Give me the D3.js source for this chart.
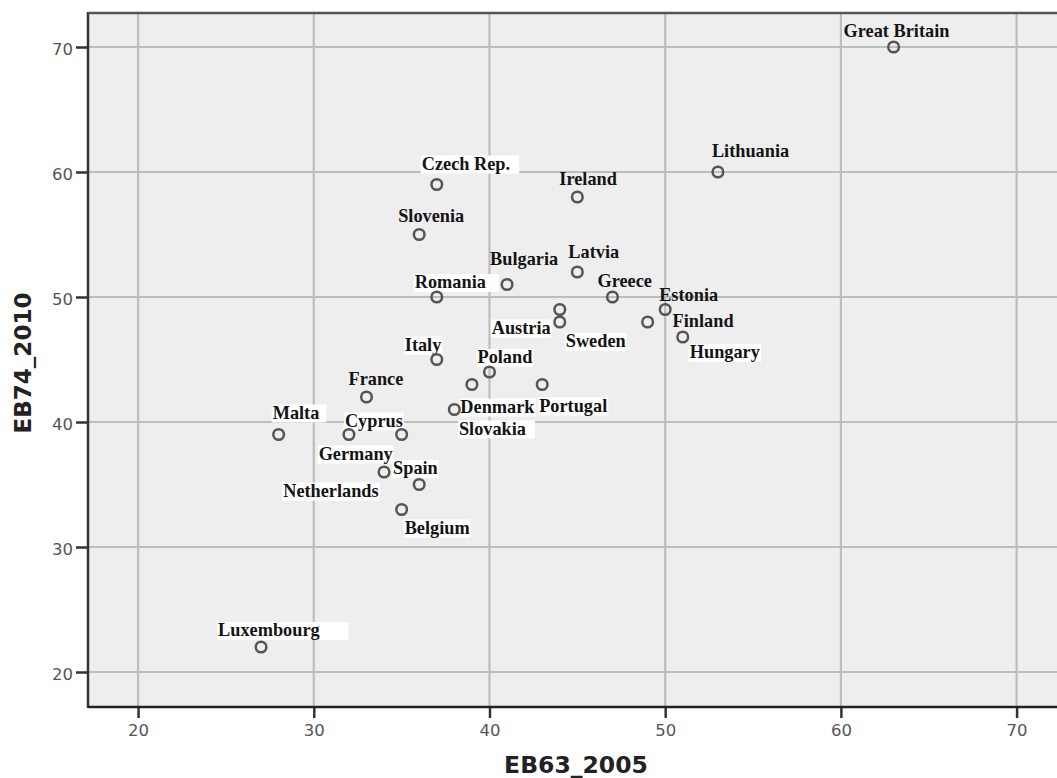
<!DOCTYPE html>
<html>
<head>
<meta charset="utf-8">
<script src="https://cdn.jsdelivr.net/npm/d3@7"></script>
<style>
  html, body { margin: 0; padding: 0; background: #ffffff; }
  svg { display: block; }
</style>
</head>
<body>
<svg id="chart" width="1057" height="778"></svg>
<script>
// Country scores in the two Eurobarometer waves
const countries = ["Great Britain", "Lithuania", "Czech Rep.", "Ireland", "Slovenia", "Bulgaria", "Latvia",
  "Romania", "Greece", "Estonia", "Austria", "Sweden", "Finland", "Hungary", "Italy", "Poland",
  "Slovakia", "Denmark", "Portugal", "France", "Malta", "Cyprus", "Germany", "Spain",
  "Netherlands", "Belgium", "Luxembourg"];
const eb63_2005 = [63, 53, 37, 45, 36, 41, 45, 37, 47, 50, 44, 44, 49, 51, 37, 40,
  39, 38, 43, 33, 28, 32, 35, 34, 36, 35, 27];
const eb74_2010 = [70, 60, 59, 58, 55, 51, 52, 50, 50, 49, 49, 48, 48, 46.8, 45, 44,
  43, 41, 43, 42, 39, 39, 39, 36, 35, 33, 22];

// Axis ticks
const xTicks = [20, 30, 40, 50, 60, 70];
const yTicks = [20, 30, 40, 50, 60, 70];
const xTitle = "EB63_2005";
const yTitle = "EB74_2010";

// Label placement relative to each marker (pixels, text start / baseline)
const labelDx = [-50, -6, -15, -18, -21, -17, -9, -22, -15, -6, -68, 6, 25, 7, -32, -12,
  -13, 6, -3, -18, -6, -4, -83, 9, -136, 3, -43];
const labelDy = [-10, -15, -15, -12, -13, -20, -14, -9, -10, -9, 24, 25, 5, 21, -9, -9,
  50, 3, 27, -12, -16, -8, 25, 2, 12, 24, -11];
// White backing behind some labels: -1 = none, otherwise extra width on the right
const labelBox = [-1, -1, 8, -1, -1, -1, -1, 12, -1, -1, 0, 0, -1, 0, 0, 0,
  8, 0, 0, -1, 6, 0, 0, 0, 0, 0, 28];

const svg = d3.select("#chart");
const plotLeft = 88, plotTop = 13, plotBottom = 707, plotRight = 1057;

const x = d3.scaleLinear().domain([17.15, 72.3]).range([plotLeft, plotRight]);
const y = d3.scaleLinear().domain([17.2, 72.8]).range([plotBottom, plotTop - 1]);

// Plot background
svg.append("rect")
  .attr("x", plotLeft).attr("y", plotTop)
  .attr("width", plotRight - plotLeft).attr("height", plotBottom - plotTop)
  .attr("fill", "#eeeeee");

// Grid lines
const grid = svg.append("g").attr("stroke", "#bdbdbd").attr("stroke-width", 2.2);
grid.selectAll("line.gx").data(xTicks).join("line")
  .attr("class", "gx")
  .attr("x1", d => x(d)).attr("x2", d => x(d))
  .attr("y1", plotTop).attr("y2", plotBottom);
grid.selectAll("line.gy").data(yTicks).join("line")
  .attr("class", "gy")
  .attr("x1", plotLeft).attr("x2", plotRight)
  .attr("y1", d => y(d)).attr("y2", d => y(d));

// Axes
const xAxis = d3.axisBottom(x).tickValues(xTicks).tickSize(11).tickPadding(6).tickSizeOuter(0);
const yAxis = d3.axisLeft(y).tickValues(yTicks).tickSize(12).tickPadding(3).tickSizeOuter(0);

const gx = svg.append("g").attr("transform", `translate(0,${plotBottom})`).call(xAxis);
const gy = svg.append("g").attr("transform", `translate(${plotLeft},0)`).call(yAxis);

[gx, gy].forEach(g => {
  g.select(".domain").remove();
  g.selectAll(".tick line").attr("stroke", "#333").attr("stroke-width", 2.5);
  g.selectAll(".tick text")
    .attr("fill", "#555")
    .attr("font-family", "'DejaVu Sans', sans-serif")
    .attr("font-size", 16.5);
});
gy.selectAll(".tick text").attr("dy", "0.45em");

// Frame lines: left and bottom axis, top border
svg.append("line").attr("x1", plotLeft).attr("x2", plotLeft).attr("y1", plotTop - 1).attr("y2", plotBottom + 1)
  .attr("stroke", "#333").attr("stroke-width", 2.5);
svg.append("line").attr("x1", plotLeft).attr("x2", plotRight).attr("y1", plotBottom).attr("y2", plotBottom)
  .attr("stroke", "#222").attr("stroke-width", 2.5);
svg.append("line").attr("x1", plotLeft).attr("x2", plotRight).attr("y1", plotTop).attr("y2", plotTop)
  .attr("stroke", "#555").attr("stroke-width", 2.5);

// Axis titles
svg.append("text")
  .attr("x", 576).attr("y", 773)
  .attr("text-anchor", "middle")
  .attr("font-family", "'DejaVu Sans', sans-serif")
  .attr("font-weight", "bold")
  .attr("font-size", 23.5)
  .attr("fill", "#222")
  .text(xTitle);
svg.append("text")
  .attr("transform", "translate(31,363) rotate(-90)")
  .attr("text-anchor", "middle")
  .attr("font-family", "'DejaVu Sans', sans-serif")
  .attr("font-weight", "bold")
  .attr("font-size", 23)
  .attr("fill", "#222")
  .text(yTitle);

// Data rows
const rows = countries.map((c, i) => ({
  name: c, a: eb63_2005[i], b: eb74_2010[i],
  dx: labelDx[i], dy: labelDy[i], box: labelBox[i]
}));

// Labels with optional white backing
const labels = svg.append("g");
rows.forEach(r => {
  const g = labels.append("g");
  const t = g.append("text")
    .attr("x", x(r.a) + r.dx)
    .attr("y", y(r.b) + r.dy)
    .attr("font-family", "'Liberation Serif', 'Times New Roman', serif")
    .attr("font-weight", "bold")
    .attr("font-size", 18.3)
    .attr("fill", "#141414")
    .text(r.name);
  if (r.box >= 0) {
    const bb = t.node().getBBox();
    g.insert("rect", "text")
      .attr("x", bb.x - 1).attr("y", bb.y + 2)
      .attr("width", bb.width + 2 + r.box).attr("height", bb.height - 2)
      .attr("fill", "#ffffff");
  }
});

// Markers
svg.append("g").selectAll("circle").data(rows).join("circle")
  .attr("cx", d => x(d.a))
  .attr("cy", d => y(d.b))
  .attr("r", 5.3)
  .attr("fill", "none")
  .attr("stroke", "#555")
  .attr("stroke-width", 2.5);
</script>
</body>
</html>
